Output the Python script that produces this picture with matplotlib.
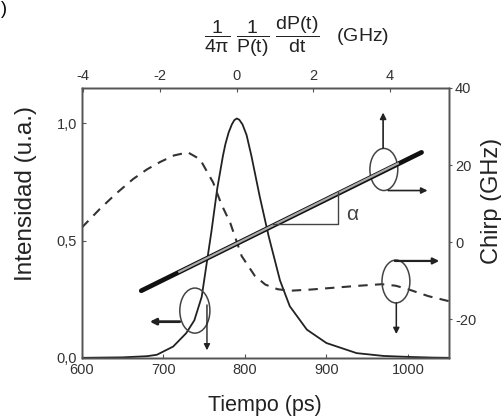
import matplotlib
matplotlib.use("Agg")
import matplotlib.pyplot as plt
from matplotlib.patches import Ellipse

plt.rcParams["font.family"] = ["Liberation Sans", "DejaVu Sans"]
plt.rcParams["mathtext.fontset"] = "custom"
plt.rcParams["mathtext.rm"] = "Liberation Sans"
plt.rcParams["mathtext.it"] = "Liberation Sans"
plt.rcParams["axes.unicode_minus"] = False

# ---- pulse intensity vs time (left / bottom axes) ------------------------
t_pulse = [600, 650, 680, 692, 712, 728, 738, 747, 753, 759, 766, 773, 776,
           780, 784, 787, 790, 793, 797, 802, 808, 818, 829, 843, 855, 876,
           900, 937, 970, 1000, 1030, 1050]
intensity = [0.0, 0.002, 0.007, 0.013, 0.048, 0.105, 0.16, 0.26, 0.40,
             0.54, 0.72, 0.86, 0.91, 0.96, 0.995, 1.013, 1.02, 1.015, 0.995,
             0.95, 0.86, 0.69, 0.52, 0.33, 0.22, 0.12, 0.063, 0.02, 0.008,
             0.004, 0.001, 0.0]

# ---- chirp vs time (right / bottom axes), dashed -------------------------
t_chirp = [600, 622, 642, 663, 680, 696, 713, 730, 745, 761, 771, 782, 796,
           812, 825, 840, 855, 880, 910, 940, 968, 985, 1000, 1025, 1050]
chirp_t = [3.8, 8.6, 12.6, 16.4, 18.9, 20.8, 22.5, 23.3, 21.5, 15.5, 9.9,
           5.0, -3.6, -8.7, -11.0, -12.2, -12.6, -12.3, -11.8, -11.3, -10.9,
           -11.3, -12.2, -14.0, -15.3]

# ---- chirp vs (1/4pi)(1/P)dP/dt (right / top axes), linear fit ------------
dpdt = [-2.49, 4.82]
chirp_fit = [-12.6, 23.3]
dpdt_mid = [-1.5, 4.2]          # lighter middle part of the fitted band
chirp_mid = [-7.7, 20.4]

# alpha triangle (slope marker)
tri_x = [0.95, 2.64, 2.64]
tri_y = [4.7, 4.7, 13.0]

x_ticks = [600, 700, 800, 900, 1000]
top_ticks = [-4, -2, 0, 2, 4]
left_ticks = [0.0, 0.5, 1.0]
left_labels = ["0,0", "0,5", "1,0"]
right_ticks = [-20, 0, 20, 40]

line_col = "#222222"
axis_col = "#555555"
text_col = "#222222"

fig = plt.figure(figsize=(5.02, 4.19), dpi=100)
ax = fig.add_axes([0.163, 0.146, 0.731, 0.644])
ax2 = ax.twinx()
ax3 = ax2.twiny()

ax.plot(t_pulse, intensity, color=line_col, lw=1.3)
ax.set_xlim(600, 1050)
ax.set_ylim(0, 1.15)
ax.set_xticks(x_ticks)
ax.set_yticks(left_ticks)
ax.set_yticklabels(left_labels)

ax2.plot(t_chirp, chirp_t, color="#333333", lw=1.5, dashes=(4.5, 3.5))
ax2.set_ylim(-30, 40)
ax2.set_yticks(right_ticks)

ax3.plot(dpdt, chirp_fit, color="#111111", lw=3.4, solid_capstyle="round")
ax3.plot(dpdt_mid, chirp_mid, color="#aaaaaa", lw=1.6)
ax3.plot(tri_x, tri_y, color="#444444", lw=1.0)
ax3.text(2.86, 7.3, r"$\alpha$", fontsize=15, color="#444444",
         ha="left", va="center")
ax3.set_xlim(-4.04, 5.53)
ax3.set_xticks(top_ticks)

for a in (ax, ax2, ax3):
    for sp in a.spines.values():
        sp.set_color(axis_col)
        sp.set_linewidth(1.0)
ax.tick_params(direction="in", length=3, labelsize=10.5, colors=axis_col,
               labelcolor="#333333")
ax2.tick_params(axis="y", direction="out", length=2.5, labelsize=10.5,
                colors=axis_col, labelcolor="#333333", pad=2)
ax3.tick_params(axis="x", direction="in", length=3, labelsize=10.5,
                colors=axis_col, labelcolor="#333333")

ax.text(0.5, -0.175, "Tiempo (ps)", transform=ax.transAxes, ha="center",
        va="center", fontsize=15.5, color=text_col)
ax.text(-0.153, 0.61, "Intensidad (u.a.)", transform=ax.transAxes,
        ha="center", va="center", rotation=90, fontsize=17.5, color=text_col)
ax.text(1.117, 0.58, "Chirp (GHz)", transform=ax.transAxes, ha="center",
        va="center", rotation=90, fontsize=17, color=text_col)
ax.text(0.586, 1.19,
        r"$\dfrac{1}{4\pi}\ \dfrac{1}{P(t)}\ \dfrac{dP(t)}{dt}$   (GHz)",
        transform=ax.transAxes, ha="center", va="center", fontsize=14,
        color=text_col)
fig.text(0.002, 0.998, ")", ha="left", va="top", fontsize=13)

# ellipses marking which axes each curve belongs to
ell = [((0.308, 0.175), 0.082, 0.167),
       ((0.823, 0.698), 0.076, 0.156),
       ((0.856, 0.283), 0.076, 0.159)]
for c, w, h in ell:
    ax3.add_patch(Ellipse(c, w, h, transform=ax3.transAxes, fill=False,
                          ec="#444444", lw=1.1, clip_on=False))

arrows = [((0.267, 0.134), (0.185, 0.134), 2.0),
          ((0.341, 0.196), (0.341, 0.028), 1.0),
          ((0.821, 0.777), (0.821, 0.909), 1.2),
          ((0.835, 0.620), (0.942, 0.620), 1.2),
          ((0.853, 0.359), (0.974, 0.359), 1.6),
          ((0.857, 0.203), (0.857, 0.088), 1.1)]
for start, tip, lw in arrows:
    ax3.annotate("", xy=tip, xytext=start, xycoords="axes fraction",
                 textcoords="axes fraction",
                 arrowprops=dict(arrowstyle="-|>", lw=lw, color="#222222",
                                 mutation_scale=9, shrinkA=0, shrinkB=0))

fig.savefig("out.png", dpi=100)
